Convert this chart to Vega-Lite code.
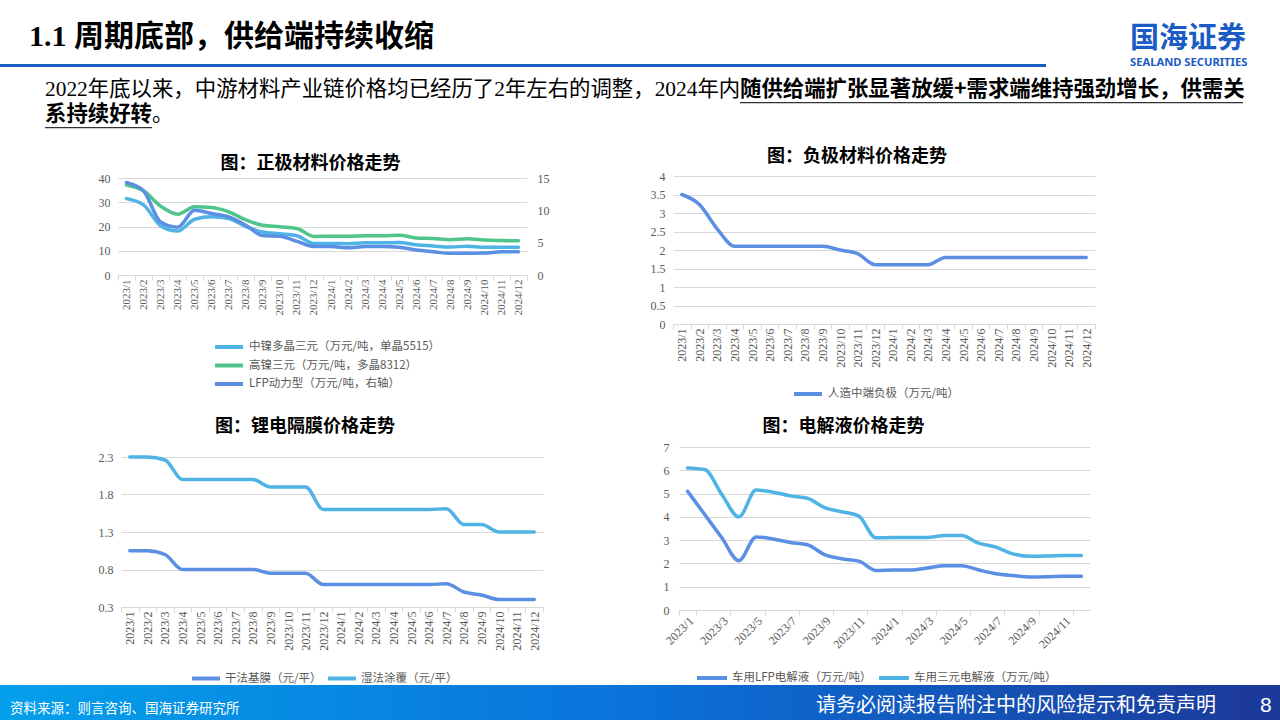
{
"$schema":"https://vega.github.io/schema/vega-lite/v6.json",
"background":"#ffffff",
"padding":0,
"config":{"view":{"stroke":null},"axis":{"labelFont":"Liberation Serif","labelColor":"#595959"},"legend":{"labelLimit":400}},
"datasets":{
"cathode":[
{"m":"2023/1","s":"中镍多晶三元（万元/吨，单晶5515）","v":31.5},{"m":"2023/2","s":"中镍多晶三元（万元/吨，单晶5515）","v":28.9},{"m":"2023/3","s":"中镍多晶三元（万元/吨，单晶5515）","v":20.3},{"m":"2023/4","s":"中镍多晶三元（万元/吨，单晶5515）","v":18.1},{"m":"2023/5","s":"中镍多晶三元（万元/吨，单晶5515）","v":23.0},{"m":"2023/6","s":"中镍多晶三元（万元/吨，单晶5515）","v":24.0},{"m":"2023/7","s":"中镍多晶三元（万元/吨，单晶5515）","v":23.3},{"m":"2023/8","s":"中镍多晶三元（万元/吨，单晶5515）","v":20.0},{"m":"2023/9","s":"中镍多晶三元（万元/吨，单晶5515）","v":17.7},{"m":"2023/10","s":"中镍多晶三元（万元/吨，单晶5515）","v":17.0},{"m":"2023/11","s":"中镍多晶三元（万元/吨，单晶5515）","v":16.2},{"m":"2023/12","s":"中镍多晶三元（万元/吨，单晶5515）","v":13.0},{"m":"2024/1","s":"中镍多晶三元（万元/吨，单晶5515）","v":13.0},{"m":"2024/2","s":"中镍多晶三元（万元/吨，单晶5515）","v":12.9},{"m":"2024/3","s":"中镍多晶三元（万元/吨，单晶5515）","v":13.3},{"m":"2024/4","s":"中镍多晶三元（万元/吨，单晶5515）","v":13.3},{"m":"2024/5","s":"中镍多晶三元（万元/吨，单晶5515）","v":13.4},{"m":"2024/6","s":"中镍多晶三元（万元/吨，单晶5515）","v":12.5},{"m":"2024/7","s":"中镍多晶三元（万元/吨，单晶5515）","v":12.0},{"m":"2024/8","s":"中镍多晶三元（万元/吨，单晶5515）","v":11.5},{"m":"2024/9","s":"中镍多晶三元（万元/吨，单晶5515）","v":11.9},{"m":"2024/10","s":"中镍多晶三元（万元/吨，单晶5515）","v":11.4},{"m":"2024/11","s":"中镍多晶三元（万元/吨，单晶5515）","v":11.4},{"m":"2024/12","s":"中镍多晶三元（万元/吨，单晶5515）","v":11.4},
{"m":"2023/1","s":"高镍三元（万元/吨，多晶8312）","v":37.1},{"m":"2023/2","s":"高镍三元（万元/吨，多晶8312）","v":34.7},{"m":"2023/3","s":"高镍三元（万元/吨，多晶8312）","v":28.4},{"m":"2023/4","s":"高镍三元（万元/吨，多晶8312）","v":25.1},{"m":"2023/5","s":"高镍三元（万元/吨，多晶8312）","v":28.1},{"m":"2023/6","s":"高镍三元（万元/吨，多晶8312）","v":27.8},{"m":"2023/7","s":"高镍三元（万元/吨，多晶8312）","v":26.0},{"m":"2023/8","s":"高镍三元（万元/吨，多晶8312）","v":22.7},{"m":"2023/9","s":"高镍三元（万元/吨，多晶8312）","v":20.5},{"m":"2023/10","s":"高镍三元（万元/吨，多晶8312）","v":19.9},{"m":"2023/11","s":"高镍三元（万元/吨，多晶8312）","v":19.2},{"m":"2023/12","s":"高镍三元（万元/吨，多晶8312）","v":15.9},{"m":"2024/1","s":"高镍三元（万元/吨，多晶8312）","v":16.0},{"m":"2024/2","s":"高镍三元（万元/吨，多晶8312）","v":16.0},{"m":"2024/3","s":"高镍三元（万元/吨，多晶8312）","v":16.2},{"m":"2024/4","s":"高镍三元（万元/吨，多晶8312）","v":16.2},{"m":"2024/5","s":"高镍三元（万元/吨，多晶8312）","v":16.4},{"m":"2024/6","s":"高镍三元（万元/吨，多晶8312）","v":15.3},{"m":"2024/7","s":"高镍三元（万元/吨，多晶8312）","v":15.1},{"m":"2024/8","s":"高镍三元（万元/吨，多晶8312）","v":14.5},{"m":"2024/9","s":"高镍三元（万元/吨，多晶8312）","v":14.9},{"m":"2024/10","s":"高镍三元（万元/吨，多晶8312）","v":14.4},{"m":"2024/11","s":"高镍三元（万元/吨，多晶8312）","v":14.2},{"m":"2024/12","s":"高镍三元（万元/吨，多晶8312）","v":14.1},
{"m":"2023/1","s":"LFP动力型（万元/吨，右轴）","v":14.3},{"m":"2023/2","s":"LFP动力型（万元/吨，右轴）","v":13.0},{"m":"2023/3","s":"LFP动力型（万元/吨，右轴）","v":8.2},{"m":"2023/4","s":"LFP动力型（万元/吨，右轴）","v":7.4},{"m":"2023/5","s":"LFP动力型（万元/吨，右轴）","v":10.0},{"m":"2023/6","s":"LFP动力型（万元/吨，右轴）","v":9.5},{"m":"2023/7","s":"LFP动力型（万元/吨，右轴）","v":9.0},{"m":"2023/8","s":"LFP动力型（万元/吨，右轴）","v":7.7},{"m":"2023/9","s":"LFP动力型（万元/吨，右轴）","v":6.1},{"m":"2023/10","s":"LFP动力型（万元/吨，右轴）","v":6.0},{"m":"2023/11","s":"LFP动力型（万元/吨，右轴）","v":5.2},{"m":"2023/12","s":"LFP动力型（万元/吨，右轴）","v":4.4},{"m":"2024/1","s":"LFP动力型（万元/吨，右轴）","v":4.4},{"m":"2024/2","s":"LFP动力型（万元/吨，右轴）","v":4.2},{"m":"2024/3","s":"LFP动力型（万元/吨，右轴）","v":4.4},{"m":"2024/4","s":"LFP动力型（万元/吨，右轴）","v":4.4},{"m":"2024/5","s":"LFP动力型（万元/吨，右轴）","v":4.3},{"m":"2024/6","s":"LFP动力型（万元/吨，右轴）","v":3.85},{"m":"2024/7","s":"LFP动力型（万元/吨，右轴）","v":3.6},{"m":"2024/8","s":"LFP动力型（万元/吨，右轴）","v":3.35},{"m":"2024/9","s":"LFP动力型（万元/吨，右轴）","v":3.35},{"m":"2024/10","s":"LFP动力型（万元/吨，右轴）","v":3.4},{"m":"2024/11","s":"LFP动力型（万元/吨，右轴）","v":3.6},{"m":"2024/12","s":"LFP动力型（万元/吨，右轴）","v":3.6}
],
"anode":[
{"m":"2023/1","s":"人造中端负极（万元/吨）","v":3.5},{"m":"2023/2","s":"人造中端负极（万元/吨）","v":3.23},{"m":"2023/3","s":"人造中端负极（万元/吨）","v":2.58},{"m":"2023/4","s":"人造中端负极（万元/吨）","v":2.1},{"m":"2023/5","s":"人造中端负极（万元/吨）","v":2.1},{"m":"2023/6","s":"人造中端负极（万元/吨）","v":2.1},{"m":"2023/7","s":"人造中端负极（万元/吨）","v":2.1},{"m":"2023/8","s":"人造中端负极（万元/吨）","v":2.1},{"m":"2023/9","s":"人造中端负极（万元/吨）","v":2.1},{"m":"2023/10","s":"人造中端负极（万元/吨）","v":2.0},{"m":"2023/11","s":"人造中端负极（万元/吨）","v":1.9},{"m":"2023/12","s":"人造中端负极（万元/吨）","v":1.6},{"m":"2024/1","s":"人造中端负极（万元/吨）","v":1.6},{"m":"2024/2","s":"人造中端负极（万元/吨）","v":1.6},{"m":"2024/3","s":"人造中端负极（万元/吨）","v":1.6},{"m":"2024/4","s":"人造中端负极（万元/吨）","v":1.8},{"m":"2024/5","s":"人造中端负极（万元/吨）","v":1.8},{"m":"2024/6","s":"人造中端负极（万元/吨）","v":1.8},{"m":"2024/7","s":"人造中端负极（万元/吨）","v":1.8},{"m":"2024/8","s":"人造中端负极（万元/吨）","v":1.8},{"m":"2024/9","s":"人造中端负极（万元/吨）","v":1.8},{"m":"2024/10","s":"人造中端负极（万元/吨）","v":1.8},{"m":"2024/11","s":"人造中端负极（万元/吨）","v":1.8},{"m":"2024/12","s":"人造中端负极（万元/吨）","v":1.8}
],
"separator":[
{"m":"2023/1","s":"干法基膜（元/平）","v":1.05},{"m":"2023/2","s":"干法基膜（元/平）","v":1.05},{"m":"2023/3","s":"干法基膜（元/平）","v":1.0},{"m":"2023/4","s":"干法基膜（元/平）","v":0.8},{"m":"2023/5","s":"干法基膜（元/平）","v":0.8},{"m":"2023/6","s":"干法基膜（元/平）","v":0.8},{"m":"2023/7","s":"干法基膜（元/平）","v":0.8},{"m":"2023/8","s":"干法基膜（元/平）","v":0.8},{"m":"2023/9","s":"干法基膜（元/平）","v":0.75},{"m":"2023/10","s":"干法基膜（元/平）","v":0.75},{"m":"2023/11","s":"干法基膜（元/平）","v":0.75},{"m":"2023/12","s":"干法基膜（元/平）","v":0.6},{"m":"2024/1","s":"干法基膜（元/平）","v":0.6},{"m":"2024/2","s":"干法基膜（元/平）","v":0.6},{"m":"2024/3","s":"干法基膜（元/平）","v":0.6},{"m":"2024/4","s":"干法基膜（元/平）","v":0.6},{"m":"2024/5","s":"干法基膜（元/平）","v":0.6},{"m":"2024/6","s":"干法基膜（元/平）","v":0.6},{"m":"2024/7","s":"干法基膜（元/平）","v":0.61},{"m":"2024/8","s":"干法基膜（元/平）","v":0.5},{"m":"2024/9","s":"干法基膜（元/平）","v":0.46},{"m":"2024/10","s":"干法基膜（元/平）","v":0.4},{"m":"2024/11","s":"干法基膜（元/平）","v":0.4},{"m":"2024/12","s":"干法基膜（元/平）","v":0.4},
{"m":"2023/1","s":"湿法涂覆（元/平）","v":2.3},{"m":"2023/2","s":"湿法涂覆（元/平）","v":2.3},{"m":"2023/3","s":"湿法涂覆（元/平）","v":2.26},{"m":"2023/4","s":"湿法涂覆（元/平）","v":2.0},{"m":"2023/5","s":"湿法涂覆（元/平）","v":2.0},{"m":"2023/6","s":"湿法涂覆（元/平）","v":2.0},{"m":"2023/7","s":"湿法涂覆（元/平）","v":2.0},{"m":"2023/8","s":"湿法涂覆（元/平）","v":2.0},{"m":"2023/9","s":"湿法涂覆（元/平）","v":1.9},{"m":"2023/10","s":"湿法涂覆（元/平）","v":1.9},{"m":"2023/11","s":"湿法涂覆（元/平）","v":1.9},{"m":"2023/12","s":"湿法涂覆（元/平）","v":1.6},{"m":"2024/1","s":"湿法涂覆（元/平）","v":1.6},{"m":"2024/2","s":"湿法涂覆（元/平）","v":1.6},{"m":"2024/3","s":"湿法涂覆（元/平）","v":1.6},{"m":"2024/4","s":"湿法涂覆（元/平）","v":1.6},{"m":"2024/5","s":"湿法涂覆（元/平）","v":1.6},{"m":"2024/6","s":"湿法涂覆（元/平）","v":1.6},{"m":"2024/7","s":"湿法涂覆（元/平）","v":1.61},{"m":"2024/8","s":"湿法涂覆（元/平）","v":1.4},{"m":"2024/9","s":"湿法涂覆（元/平）","v":1.4},{"m":"2024/10","s":"湿法涂覆（元/平）","v":1.3},{"m":"2024/11","s":"湿法涂覆（元/平）","v":1.3},{"m":"2024/12","s":"湿法涂覆（元/平）","v":1.3}
],
"electrolyte":[
{"m":"2023/1","s":"车用LFP电解液（万元/吨）","v":5.1},{"m":"2023/2","s":"车用LFP电解液（万元/吨）","v":4.1},{"m":"2023/3","s":"车用LFP电解液（万元/吨）","v":3.1},{"m":"2023/4","s":"车用LFP电解液（万元/吨）","v":2.12},{"m":"2023/5","s":"车用LFP电解液（万元/吨）","v":3.14},{"m":"2023/6","s":"车用LFP电解液（万元/吨）","v":3.05},{"m":"2023/7","s":"车用LFP电解液（万元/吨）","v":2.9},{"m":"2023/8","s":"车用LFP电解液（万元/吨）","v":2.8},{"m":"2023/9","s":"车用LFP电解液（万元/吨）","v":2.38},{"m":"2023/10","s":"车用LFP电解液（万元/吨）","v":2.2},{"m":"2023/11","s":"车用LFP电解液（万元/吨）","v":2.1},{"m":"2023/12","s":"车用LFP电解液（万元/吨）","v":1.7},{"m":"2024/1","s":"车用LFP电解液（万元/吨）","v":1.72},{"m":"2024/2","s":"车用LFP电解液（万元/吨）","v":1.72},{"m":"2024/3","s":"车用LFP电解液（万元/吨）","v":1.8},{"m":"2024/4","s":"车用LFP电解液（万元/吨）","v":1.9},{"m":"2024/5","s":"车用LFP电解液（万元/吨）","v":1.9},{"m":"2024/6","s":"车用LFP电解液（万元/吨）","v":1.72},{"m":"2024/7","s":"车用LFP电解液（万元/吨）","v":1.56},{"m":"2024/8","s":"车用LFP电解液（万元/吨）","v":1.48},{"m":"2024/9","s":"车用LFP电解液（万元/吨）","v":1.42},{"m":"2024/10","s":"车用LFP电解液（万元/吨）","v":1.43},{"m":"2024/11","s":"车用LFP电解液（万元/吨）","v":1.45},{"m":"2024/12","s":"车用LFP电解液（万元/吨）","v":1.45},
{"m":"2023/1","s":"车用三元电解液（万元/吨）","v":6.1},{"m":"2023/2","s":"车用三元电解液（万元/吨）","v":6.03},{"m":"2023/3","s":"车用三元电解液（万元/吨）","v":4.96},{"m":"2023/4","s":"车用三元电解液（万元/吨）","v":4.0},{"m":"2023/5","s":"车用三元电解液（万元/吨）","v":5.15},{"m":"2023/6","s":"车用三元电解液（万元/吨）","v":5.06},{"m":"2023/7","s":"车用三元电解液（万元/吨）","v":4.9},{"m":"2023/8","s":"车用三元电解液（万元/吨）","v":4.8},{"m":"2023/9","s":"车用三元电解液（万元/吨）","v":4.4},{"m":"2023/10","s":"车用三元电解液（万元/吨）","v":4.22},{"m":"2023/11","s":"车用三元电解液（万元/吨）","v":4.03},{"m":"2023/12","s":"车用三元电解液（万元/吨）","v":3.1},{"m":"2024/1","s":"车用三元电解液（万元/吨）","v":3.11},{"m":"2024/2","s":"车用三元电解液（万元/吨）","v":3.11},{"m":"2024/3","s":"车用三元电解液（万元/吨）","v":3.11},{"m":"2024/4","s":"车用三元电解液（万元/吨）","v":3.2},{"m":"2024/5","s":"车用三元电解液（万元/吨）","v":3.2},{"m":"2024/6","s":"车用三元电解液（万元/吨）","v":2.87},{"m":"2024/7","s":"车用三元电解液（万元/吨）","v":2.7},{"m":"2024/8","s":"车用三元电解液（万元/吨）","v":2.41},{"m":"2024/9","s":"车用三元电解液（万元/吨）","v":2.31},{"m":"2024/10","s":"车用三元电解液（万元/吨）","v":2.32},{"m":"2024/11","s":"车用三元电解液（万元/吨）","v":2.34},{"m":"2024/12","s":"车用三元电解液（万元/吨）","v":2.34}
]
},
"bounds":"flush",
"spacing":0,
"resolve":{"scale":{"color":"independent","x":"independent","y":"independent"},"legend":{"color":"independent"}},
"vconcat":[
{"width":1,"height":64,"data":{"values":[]},"mark":"point","encoding":{}},
{"hconcat":[
 {"width":1046,"height":3,"data":{"values":[]},"mark":"point","encoding":{},"view":{"fill":"#1a5fc0","stroke":null},
  "title":{"text":"1.1 周期底部，供给端持续收缩","anchor":"start","frame":"group","dx":29,"offset":12,"font":"Liberation Serif, Noto Sans CJK SC","fontSize":30,"fontWeight":"bold","color":"#000000"}},
 {"width":234,"height":3,"data":{"values":[]},"mark":"point","encoding":{},
  "title":{"text":"国海证券","subtitle":"SEALAND SECURITIES","anchor":"start","frame":"group","dx":84,"offset":-4,"font":"Noto Sans CJK SC","fontSize":29,"fontWeight":"bold","color":"#1a5bc4","subtitleFont":"Noto Sans","subtitleFontSize":11.2,"subtitleFontWeight":"bold","subtitleColor":"#1a5bc4","subtitlePadding":3}}
],"spacing":0,"bounds":"flush"},
{"width":1,"height":37.5,"data":{"values":[]},"mark":"point","encoding":{}},
{"hconcat":[
 {"width":45,"height":1.2,"data":{"values":[]},"mark":"point","encoding":{}},
 {"width":695,"height":1.2,"data":{"values":[]},"mark":"point","encoding":{},
  "title":{"text":"2022年底以来，中游材料产业链价格均已经历了2年左右的调整，2024年内","anchor":"start","frame":"group","offset":2,"font":"Liberation Serif, Noto Sans CJK SC","fontSize":21.4,"fontWeight":"normal","color":"#000000"}},
 {"width":503,"height":1.2,"data":{"values":[]},"mark":"point","encoding":{},"view":{"fill":"#333333","stroke":null},
  "title":{"text":"随供给端扩张显著放缓+需求端维持强劲增长，供需关","anchor":"start","frame":"group","offset":2,"font":"Noto Sans CJK SC","fontSize":21.4,"fontWeight":"bold","color":"#000000"}}
],"spacing":0,"bounds":"flush"},
{"width":1,"height":24.5,"data":{"values":[]},"mark":"point","encoding":{}},
{"hconcat":[
 {"width":45,"height":1.2,"data":{"values":[]},"mark":"point","encoding":{}},
 {"width":107,"height":1.2,"data":{"values":[]},"mark":"point","encoding":{},"view":{"fill":"#333333","stroke":null},
  "title":{"text":"系持续好转","anchor":"start","frame":"group","offset":2,"font":"Noto Sans CJK SC","fontSize":21.4,"fontWeight":"bold","color":"#000000"}},
 {"width":30,"height":1.2,"data":{"values":[]},"mark":"point","encoding":{},
  "title":{"text":"。","anchor":"start","frame":"group","offset":2,"font":"Noto Sans CJK SC","fontSize":21.4,"fontWeight":"normal","color":"#000000"}}
],"spacing":0,"bounds":"flush"},
{"width":1,"height":49,"data":{"values":[]},"mark":"point","encoding":{}},
{"hconcat":[
 {"width":118,"height":1,"data":{"values":[]},"mark":"point","encoding":{}},
 {"vconcat":[
  {"width":409,"height":2,"data":{"values":[]},"mark":"point","encoding":{}},
  {"width":409,"height":97,
   "data":{"name":"cathode"},
   "title":{"text":"图：正极材料价格走势","anchor":"middle","frame":"group","dx":-12,"offset":-1,"font":"Noto Sans CJK SC","fontSize":18,"fontWeight":"bold","color":"#000000"},
   "encoding":{
    "x":{"field":"m","type":"ordinal","sort":["2023/1","2023/2","2023/3","2023/4","2023/5","2023/6","2023/7","2023/8","2023/9","2023/10","2023/11","2023/12","2024/1","2024/2","2024/3","2024/4","2024/5","2024/6","2024/7","2024/8","2024/9","2024/10","2024/11","2024/12"],"scale":{"type":"band","paddingInner":0,"paddingOuter":0},"bandPosition":0.5,
     "axis":{"title":null,"labelAngle":-90,"labelFontSize":11,"labelPadding":-1,"labelOverlap":false,"tickBand":"extent","tickColor":"#d9d9d9","tickSize":5,"domainColor":"#d9d9d9","grid":false}},
    "color":{"field":"s","type":"nominal","scale":{"domain":["中镍多晶三元（万元/吨，单晶5515）","高镍三元（万元/吨，多晶8312）","LFP动力型（万元/吨，右轴）"],"range":["#4fb3e6","#4fc48b","#5b8fe4"]},
     "legend":{"orient":"none","legendX":95,"legendY":162,"direction":"vertical","title":null,"symbolType":"stroke","symbolSize":784,"symbolStrokeWidth":4,"clipHeight":14,"rowPadding":4.5,"labelFont":"Noto Sans CJK SC","labelFontSize":11.5,"labelColor":"#595959","labelOffset":4,"labelLimit":400}}
   },
   "layer":[
    {"transform":[{"filter":{"field":"s","oneOf":["中镍多晶三元（万元/吨，单晶5515）","高镍三元（万元/吨，多晶8312）"]}}],
     "mark":{"type":"line","interpolate":"monotone","strokeWidth":3.5,"strokeCap":"round","strokeJoin":"round"},
     "encoding":{"y":{"field":"v","type":"quantitative","scale":{"domain":[0,40],"nice":false},"axis":{"orient":"left","title":null,"values":[0,10,20,30,40],"grid":true,"gridColor":"#d9d9d9","domain":false,"ticks":false,"labelFontSize":12,"labelPadding":8}}}},
    {"transform":[{"filter":{"field":"s","equal":"LFP动力型（万元/吨，右轴）"}}],
     "mark":{"type":"line","interpolate":"monotone","strokeWidth":3.5,"strokeCap":"round","strokeJoin":"round"},
     "encoding":{"y":{"field":"v","type":"quantitative","scale":{"domain":[0,15],"nice":false},"axis":{"orient":"right","title":null,"values":[0,5,10,15],"grid":false,"domain":false,"ticks":false,"labelFontSize":12,"labelPadding":10}}}}
   ],
   "resolve":{"scale":{"y":"independent"}}
  }
 ],"spacing":0,"bounds":"flush","resolve":{"scale":{"color":"independent","x":"independent","y":"independent"},"legend":{"color":"independent"}}},
 {"width":555,"height":1,"data":{"values":[]},"mark":"point","encoding":{}},
 {"width":422,"height":148,
  "data":{"name":"anode"},
  "title":{"text":"图：负极材料价格走势","anchor":"middle","frame":"group","dx":-27,"offset":4,"font":"Noto Sans CJK SC","fontSize":18,"fontWeight":"bold","color":"#000000"},
  "mark":{"type":"line","interpolate":"monotone","strokeWidth":3.5,"strokeCap":"round","strokeJoin":"round"},
  "encoding":{
   "x":{"field":"m","type":"ordinal","sort":["2023/1","2023/2","2023/3","2023/4","2023/5","2023/6","2023/7","2023/8","2023/9","2023/10","2023/11","2023/12","2024/1","2024/2","2024/3","2024/4","2024/5","2024/6","2024/7","2024/8","2024/9","2024/10","2024/11","2024/12"],"scale":{"type":"band","paddingInner":0,"paddingOuter":0},"bandPosition":0.5,
    "axis":{"title":null,"labelAngle":-90,"labelFontSize":12,"labelPadding":-1,"labelOverlap":false,"tickBand":"extent","tickColor":"#d9d9d9","tickSize":5,"domainColor":"#d9d9d9","grid":false}},
   "y":{"field":"v","type":"quantitative","scale":{"domain":[0,4],"nice":false},"axis":{"title":null,"values":[0,0.5,1,1.5,2,2.5,3,3.5,4],"format":"~g","grid":true,"gridColor":"#d9d9d9","domain":false,"ticks":false,"labelFontSize":12,"labelPadding":8}},
   "color":{"field":"s","type":"nominal","scale":{"domain":["人造中端负极（万元/吨）"],"range":["#5b8fe4"]},
    "legend":{"orient":"none","legendX":119,"legendY":211,"direction":"vertical","title":null,"symbolType":"stroke","symbolSize":784,"symbolStrokeWidth":4,"clipHeight":14,"labelFont":"Noto Sans CJK SC","labelFontSize":11.5,"labelColor":"#595959","labelOffset":4,"labelLimit":400}}
  }
 }
],"spacing":0,"bounds":"flush","resolve":{"scale":{"color":"independent","x":"independent","y":"independent"},"legend":{"color":"independent"}}},
{"width":1,"height":271,"data":{"values":[]},"mark":"point","encoding":{}},
{"hconcat":[
 {"width":121,"height":1,"data":{"values":[]},"mark":"point","encoding":{}},
 {"vconcat":[
  {"width":422,"height":10,"data":{"values":[]},"mark":"point","encoding":{}},
  {"width":422,"height":150,
   "data":{"name":"separator"},
   "title":{"text":"图：锂电隔膜价格走势","anchor":"middle","frame":"group","dx":-27,"offset":15,"font":"Noto Sans CJK SC","fontSize":18,"fontWeight":"bold","color":"#000000"},
   "mark":{"type":"line","interpolate":"monotone","strokeWidth":3.5,"strokeCap":"round","strokeJoin":"round"},
   "encoding":{
    "x":{"field":"m","type":"ordinal","sort":["2023/1","2023/2","2023/3","2023/4","2023/5","2023/6","2023/7","2023/8","2023/9","2023/10","2023/11","2023/12","2024/1","2024/2","2024/3","2024/4","2024/5","2024/6","2024/7","2024/8","2024/9","2024/10","2024/11","2024/12"],"scale":{"type":"band","paddingInner":0,"paddingOuter":0},"bandPosition":0.5,
     "axis":{"title":null,"labelAngle":-90,"labelFontSize":12,"labelPadding":-1,"labelOverlap":false,"tickBand":"extent","tickColor":"#d9d9d9","tickSize":5,"domainColor":"#d9d9d9","grid":false}},
    "y":{"field":"v","type":"quantitative","scale":{"domain":[0.3,2.3],"nice":false,"zero":false},"axis":{"title":null,"values":[0.3,0.8,1.3,1.8,2.3],"format":".1f","grid":true,"gridColor":"#d9d9d9","domain":false,"ticks":false,"labelFontSize":12,"labelPadding":8}},
    "color":{"field":"s","type":"nominal","scale":{"domain":["干法基膜（元/平）","湿法涂覆（元/平）"],"range":["#5b8fe4","#4fb3e6"]},
     "legend":{"orient":"none","legendX":69,"legendY":214.6,"direction":"horizontal","columns":2,"columnPadding":4,"title":null,"symbolType":"stroke","symbolSize":784,"symbolStrokeWidth":4,"clipHeight":14,"labelFont":"Noto Sans CJK SC","labelFontSize":11.5,"labelColor":"#595959","labelOffset":3,"labelLimit":400}}
   }
  }
 ],"spacing":0,"bounds":"flush","resolve":{"scale":{"color":"independent","x":"independent","y":"independent"},"legend":{"color":"independent"}}},
 {"width":558,"height":1,"data":{"values":[]},"mark":"point","encoding":{}},
 {"width":411,"height":163,
  "data":{"name":"electrolyte"},
  "title":{"text":"图：电解液价格走势","anchor":"middle","frame":"group","dx":-41,"offset":5,"font":"Noto Sans CJK SC","fontSize":18,"fontWeight":"bold","color":"#000000"},
  "mark":{"type":"line","interpolate":"monotone","strokeWidth":3.5,"strokeCap":"round","strokeJoin":"round"},
  "encoding":{
   "x":{"field":"m","type":"ordinal","sort":["2023/1","2023/2","2023/3","2023/4","2023/5","2023/6","2023/7","2023/8","2023/9","2023/10","2023/11","2023/12","2024/1","2024/2","2024/3","2024/4","2024/5","2024/6","2024/7","2024/8","2024/9","2024/10","2024/11","2024/12"],"scale":{"type":"band","paddingInner":0,"paddingOuter":0},"bandPosition":0.5,
    "axis":{"title":null,"values":["2023/1","2023/3","2023/5","2023/7","2023/9","2023/11","2024/1","2024/3","2024/5","2024/7","2024/9","2024/11"],"labelAngle":-45,"labelFontSize":12,"labelPadding":0,"labelOverlap":false,"tickBand":"extent","tickColor":"#d9d9d9","tickSize":5,"domainColor":"#d9d9d9","grid":false}},
   "y":{"field":"v","type":"quantitative","scale":{"domain":[0,7],"nice":false},"axis":{"title":null,"values":[0,1,2,3,4,5,6,7],"grid":true,"gridColor":"#d9d9d9","domain":false,"ticks":false,"labelFontSize":12,"labelPadding":10}},
   "color":{"field":"s","type":"nominal","scale":{"domain":["车用LFP电解液（万元/吨）","车用三元电解液（万元/吨）"],"range":["#5b8fe4","#4fb3e6"]},
    "legend":{"orient":"none","legendX":16,"legendY":224,"direction":"horizontal","columns":2,"columnPadding":5,"title":null,"symbolType":"stroke","symbolSize":900,"symbolStrokeWidth":4,"clipHeight":14,"labelFont":"Noto Sans CJK SC","labelFontSize":11.5,"labelColor":"#595959","labelOffset":3,"labelLimit":400}}
  }
 }
],"spacing":0,"bounds":"flush","resolve":{"scale":{"color":"independent","x":"independent","y":"independent"},"legend":{"color":"independent"}}},
{"width":1,"height":238,"data":{"values":[]},"mark":"point","encoding":{}},
{"hconcat":[
 {"width":640,"height":36,"data":{"values":[]},"mark":"point","encoding":{},
  "view":{"stroke":null,"fill":{"gradient":"linear","x1":0,"y1":0,"x2":1,"y2":0,"stops":[{"offset":0,"color":"#04a0eb"},{"offset":1,"color":"#0a72da"}]}},
  "title":{"text":"资料来源：则言咨询、国海证券研究所","anchor":"start","frame":"group","dx":10,"offset":-30,"font":"Noto Sans CJK SC","fontSize":13.5,"fontWeight":"normal","color":"#ffffff"}},
 {"width":600,"height":36,"data":{"values":[]},"mark":"point","encoding":{},
  "view":{"stroke":null,"fill":{"gradient":"linear","x1":0,"y1":0,"x2":1,"y2":0,"stops":[{"offset":0,"color":"#0a72da"},{"offset":1,"color":"#1b3c9c"}]}},
  "title":{"text":"请务必阅读报告附注中的风险提示和免责声明","anchor":"end","frame":"group","dx":-24,"offset":-31,"font":"Noto Sans CJK SC","fontSize":20,"fontWeight":"normal","color":"#ffffff"}},
 {"width":40,"height":36,"data":{"values":[]},"mark":"point","encoding":{},
  "view":{"stroke":null,"fill":"#1b3a99"},
  "title":{"text":"8","anchor":"start","frame":"group","dx":20,"offset":-31,"font":"Liberation Sans","fontSize":21,"fontWeight":"normal","color":"#ffffff"}}
],"spacing":0,"bounds":"flush"}
]
}
